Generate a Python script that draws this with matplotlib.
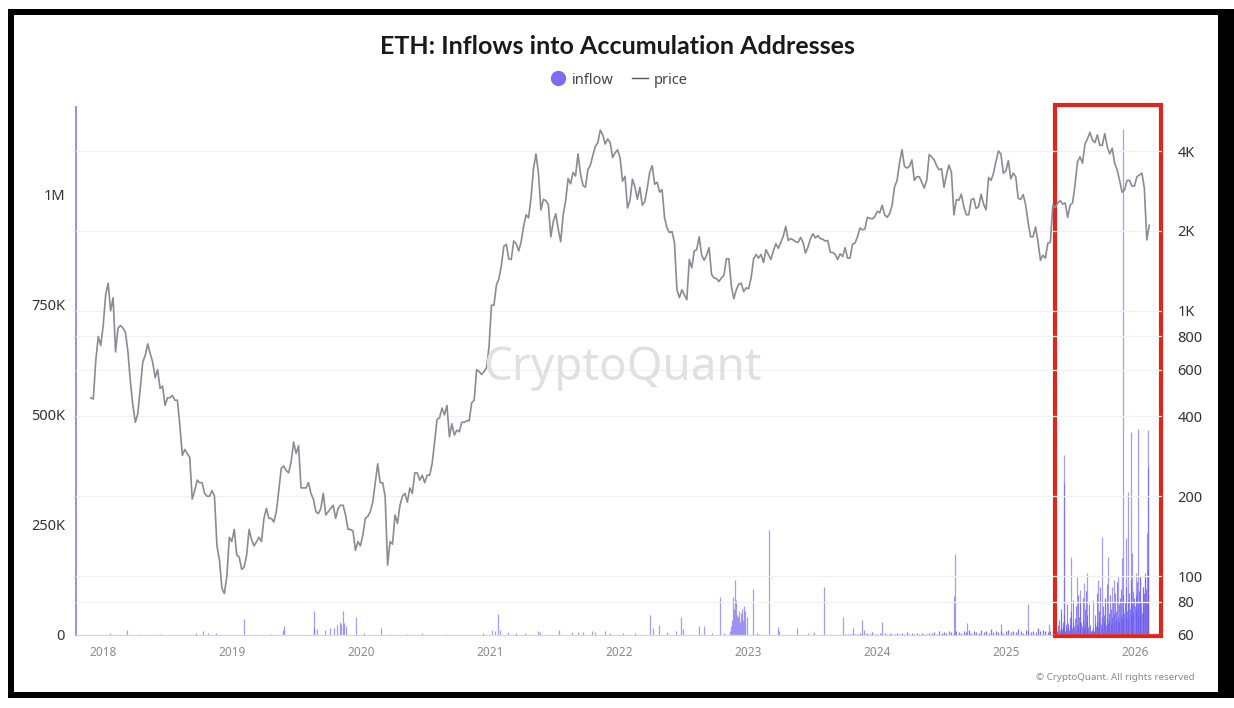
import matplotlib
matplotlib.use("Agg")
import matplotlib.pyplot as plt
import matplotlib.dates as mdates
import matplotlib.transforms as mtransforms
from matplotlib.patches import Rectangle
from matplotlib.lines import Line2D
import pandas as pd

plt.rcParams['font.family'] = ['Noto Sans', 'DejaVu Sans']

# ---------------- data ----------------
title = "ETH: Inflows into Accumulation Addresses"

# weekly ETH price (USD), one list per year with its first week's date
price_2017_start = "2017-11-27"
price_2017 = [470, 465, 650, 800, 740]
price_2018_start = "2018-01-01"
price_2018 = [880, 1150, 1270, 1000, 1120, 700, 860, 880, 860, 830, 700, 540, 440, 380, 410, 510,
              640, 680, 750, 690, 640, 560, 600, 510, 520, 440, 470, 470, 480, 460, 460, 370, 285,
              300, 290, 280, 195, 210, 230, 225, 225, 205, 200, 200, 210, 200, 130, 115, 90, 86,
              100, 140, 135]
price_2019_start = "2019-01-07"
price_2019 = [150, 120, 118, 106, 108, 120, 150, 137, 130, 135, 140, 135, 165, 180, 165, 165, 160,
              175, 210, 255, 260, 250, 245, 270, 320, 290, 310, 215, 215, 215, 225, 205, 195, 175,
              172, 180, 205, 170, 175, 180, 185, 165, 180, 185, 185, 170, 150, 150, 148, 125, 135,
              130]
price_2020_start = "2020-01-06"
price_2020 = [143, 165, 168, 175, 190, 225, 265, 225, 225, 200, 110, 135, 132, 170, 158, 185, 200,
              205, 190, 215, 205, 245, 245, 230, 240, 225, 240, 240, 265, 320, 390, 395, 430, 405,
              440, 335, 375, 340, 355, 350, 380, 380, 385, 385, 450, 460, 600, 590, 575, 590, 610,
              730]
price_2021_start = "2021-01-04"
price_2021 = [1050, 1050, 1250, 1320, 1480, 1750, 1780, 1570, 1560, 1830, 1790, 1680, 1820, 2080,
              2300, 2240, 2660, 3430, 3900, 3300, 2400, 2630, 2600, 2510, 1900, 2170, 2320, 2030,
              1820, 2300, 2600, 3150, 3010, 3320, 3220, 3900, 3280, 2970, 2920, 3400, 3540, 3850,
              4160, 4300, 4800, 4600, 4250, 4440, 4300, 3780, 3940, 4040]
price_2022_start = "2022-01-03"
price_2022 = [3770, 3080, 3210, 2440, 2600, 3130, 2930, 2630, 2920, 2500, 2580, 2900, 3330, 3520,
              3000, 3050, 2800, 2860, 2240, 2050, 1970, 1990, 1810, 1200, 1120, 1200, 1150, 1100,
              1560, 1450, 1680, 1700, 1900, 1620, 1550, 1620, 1730, 1370, 1330, 1320, 1290, 1330,
              1360, 1570, 1570, 1240, 1110, 1200, 1260, 1270, 1180, 1220]
price_2023_start = "2023-01-02"
price_2023 = [1210, 1330, 1570, 1630, 1580, 1630, 1520, 1700, 1630, 1560, 1680, 1790, 1720, 1810,
              1910, 2080, 1840, 1870, 1850, 1820, 1810, 1890, 1810, 1650, 1740, 1870, 1950, 1880,
              1920, 1870, 1860, 1830, 1840, 1660, 1660, 1630, 1560, 1640, 1600, 1730, 1580, 1580,
              1780, 1800, 1900, 2050, 2020, 2030, 2250, 2230, 2220, 2260]
price_2024_start = "2024-01-01"
price_2024 = [2370, 2340, 2500, 2300, 2250, 2320, 2500, 2930, 3100, 3600, 4050, 3500, 3450, 3500,
              3700, 3100, 3200, 3200, 3050, 2900, 3100, 3880, 3800, 3710, 3520, 3400, 3430, 2920,
              3250, 3540, 3320, 2300, 2620, 2610, 2750, 2470, 2300, 2300, 2620, 2650, 2430, 2470,
              2750, 2520, 2400, 3180, 3100, 3300, 3650, 4000, 3900, 3300, 3360]
price_2025_start = "2025-01-06"
price_2025 = [3680, 3140, 3300, 3200, 2650, 2630, 2740, 2510, 2150, 1900, 1900, 2070, 1820, 1550,
              1620, 1580, 1800, 1810, 2500, 2450, 2550, 2600, 2520, 2550, 2250, 2500, 2550, 3000,
              3650, 3800, 3600, 4250, 4450, 4700, 4400, 4300, 4600, 4200, 4200, 4650, 4150, 3900,
              4100, 3600, 3400, 3100, 2800, 2850, 3100, 3100, 2950, 2950]
price_2026_start = "2026-01-05"
price_2026 = [3200, 3250, 3300, 2900, 1850, 2100]

# inflow (thousands ETH): individual notable days
inflow_dates = [
    "2018-01-20", "2018-03-08", "2018-04-15", "2018-06-10", "2018-09-20", "2018-10-10", "2018-10-25",
    "2018-11-15", "2019-02-03", "2019-04-20", "2019-05-25", "2019-05-29", "2019-08-20", "2019-08-22",
    "2019-08-28", "2019-09-20", "2019-10-05", "2019-10-15", "2019-10-25", "2019-11-01", "2019-11-05",
    "2019-11-10", "2019-11-14", "2019-11-18", "2019-12-18", "2020-01-10", "2020-02-25", "2020-03-20",
    "2020-05-10", "2020-06-20", "2020-08-25", "2020-12-10", "2021-01-05", "2021-01-15", "2021-01-22",
    "2021-01-28", "2021-02-20", "2021-03-15", "2021-04-10", "2021-05-15", "2021-05-20", "2021-07-15",
    "2021-08-20", "2021-09-05", "2021-09-20", "2021-10-15", "2021-10-25", "2021-11-20", "2021-12-05",
    "2022-01-10", "2022-02-15", "2022-03-28", "2022-04-05", "2022-04-22", "2022-05-15", "2022-06-10",
    "2022-06-25", "2022-07-01", "2022-08-14", "2022-08-28", "2022-09-20", "2022-10-12", "2022-10-25",
    "2022-11-10", "2022-11-13", "2022-11-16", "2022-11-19", "2022-11-21", "2022-11-24", "2022-11-27",
    "2022-11-30", "2022-12-03", "2022-12-06", "2022-12-09", "2022-12-12", "2022-12-15", "2022-12-18",
    "2022-12-21", "2022-12-24", "2022-12-27", "2023-01-15", "2023-01-25", "2023-02-01", "2023-02-28",
    "2023-03-25", "2023-03-30", "2023-05-18", "2023-06-20", "2023-07-05", "2023-08-04", "2023-08-20",
    "2023-09-27", "2023-10-25", "2023-11-20", "2023-11-25", "2024-01-15", "2024-08-05", "2024-08-07",
    "2024-09-12", "2024-12-16", "2025-03-03", "2025-04-30",
    "2025-06-03", "2025-06-13", "2025-06-14", "2025-07-02", "2025-07-20", "2025-07-27", "2025-08-07",
    "2025-08-18", "2025-09-02", "2025-09-16", "2025-09-27", "2025-10-08", "2025-10-15", "2025-10-26",
    "2025-11-02", "2025-11-13", "2025-11-24", "2025-11-28", "2025-12-05", "2025-12-12", "2025-12-19",
    "2025-12-23", "2026-01-03", "2026-01-08", "2026-01-15", "2026-01-22", "2026-01-29", "2026-02-03",
    "2026-02-04", "2026-02-05",
]
inflow_values = [
    4, 11, 3, 2, 5, 8, 5,
    4, 36, 3, 12, 20, 55, 15,
    14, 12, 15, 16, 22, 30, 25,
    55, 28, 20, 41, 4, 17, 3,
    3, 4, 3, 5, 11, 10, 48,
    12, 6, 4, 5, 9, 6, 11,
    6, 7, 6, 8, 6, 10, 5,
    4, 5, 45, 15, 23, 6, 8,
    41, 14, 20, 20, 4, 87, 5,
    10, 20, 35, 87, 60, 125, 80,
    45, 40, 55, 30, 50, 60, 35,
    65, 55, 40, 104, 5, 3, 239,
    18, 10, 15, 5, 6, 109, 3,
    41, 15, 34, 12, 30, 88, 184,
    27, 25, 70, 25,
    50, 345, 409, 177, 132, 102, 118,
    141, 80, 125, 223, 82, 177, 109,
    125, 132, 175, 1150, 220, 325, 461,
    186, 141, 468, 132, 109, 132, 232,
    382, 466,
]

# background small inflows (thousands ETH), weekly from Oct 2023
bg_start = "2023-10-02"
bg_values = [
    2, 3, 2, 4, 3, 2, 5, 3, 2, 4, 3, 6, 2, 3, 4, 2, 5, 3, 4, 2,
    3, 5, 2, 4, 3, 6, 2, 4, 3, 5, 2, 4, 3, 2, 5,
    4, 6, 3, 8, 5, 7, 4, 9, 6, 5, 10, 7, 4, 8, 6, 12, 5, 9, 7, 4,
    11, 6, 8, 5, 13, 7, 9, 6, 10, 5, 8, 12, 6, 9, 7, 14, 8, 5, 11, 9,
    6, 10, 7, 15, 8, 12, 9, 6, 10, 8,
]

# dense inflows in highlighted period (thousands ETH), every 2 days
dense_start = "2025-05-20"
dense_values = [
    5, 15, 8, 22, 10, 35, 12, 18, 60, 14, 30, 20, 45, 10, 25, 15, 70, 18, 28, 12, 40,
    22, 55, 15, 30, 80, 20, 38, 12, 65, 25, 90, 18, 42, 28, 75,
    30, 20, 85, 35, 15, 60, 25, 100, 30, 45, 18, 70, 22, 10, 8, 12,
    6, 15, 10, 25, 45, 20, 95, 30, 18, 55, 35, 110, 25, 40, 20,
    65, 30, 45, 85, 22, 38, 115, 28, 50, 35, 90, 25, 60, 40, 75, 30,
    48, 95, 35, 55, 120, 40, 70, 30, 85, 45, 105, 38, 60, 90, 50,
    75, 40, 110, 55, 80, 35, 95, 60, 125, 45, 70, 100, 50, 85, 65,
    90, 55, 120, 70, 45, 100, 60, 135, 75, 50, 110, 65, 95, 140, 80, 105,
    70, 150, 90,
]

years = [2018, 2019, 2020, 2021, 2022, 2023, 2024, 2025, 2026]
left_ticks = [0, 250, 500, 750, 1000]
left_labels = ["0", "250K", "500K", "750K", "1M"]
right_ticks = [60, 80, 100, 200, 400, 600, 800, 1000, 2000, 4000]
right_labels = ["60", "80", "100", "200", "400", "600", "800", "1K", "2K", "4K"]

# ---------------- figure ----------------
W, H = 1234, 708
fig = plt.figure(figsize=(W / 100, H / 100), dpi=100)
fig.patch.set_facecolor("white")

def px(x0, y0, x1, y1):
    return [x0 / W, 1 - y1 / H, (x1 - x0) / W, (y1 - y0) / H]

L, R, T, B = 76, 1162, 107, 635
ax = fig.add_axes(px(L, T, R, B))
ax2 = ax.twinx()

bar_color = "#6a5bef"
pd_inflow = pd.to_datetime(inflow_dates)
pd_bg = pd.date_range(bg_start, periods=len(bg_values), freq="7D")
pd_dense = pd.date_range(dense_start, periods=len(dense_values), freq="2D")

ax.vlines(pd_bg, 0, bg_values, color=bar_color, lw=0.9, alpha=0.85, zorder=2)
ax.vlines(pd_dense, 0, dense_values, color=bar_color, lw=0.8, alpha=0.75, zorder=2)
ax.vlines(pd_inflow, 0, inflow_values, color=bar_color, lw=0.9, alpha=0.6, zorder=3)

ax.set_ylim(0, 1200)
ax.set_xlim(pd.Timestamp("2017-10-16"), pd.Timestamp("2026-03-17"))
ax.set_yticks(left_ticks)
ax.set_yticklabels(left_labels)

price_segments = [
    (price_2017_start, price_2017), (price_2018_start, price_2018), (price_2019_start, price_2019),
    (price_2020_start, price_2020), (price_2021_start, price_2021), (price_2022_start, price_2022),
    (price_2023_start, price_2023), (price_2024_start, price_2024), (price_2025_start, price_2025),
    (price_2026_start, price_2026),
]
p_dates, p_vals = [], []
for start, vals in price_segments:
    p_dates.extend(pd.date_range(start, periods=len(vals), freq="7D"))
    p_vals.extend(vals)
ax2.plot(p_dates, p_vals, color="#8b8b96", lw=1.2, zorder=4)
ax2.set_yscale("log")
ax2.set_ylim(60, 5860)
ax2.set_yticks(right_ticks)
ax2.set_yticklabels(right_labels)
ax2.yaxis.set_minor_locator(matplotlib.ticker.NullLocator())
ax2.grid(axis="y", color="#f1f1f3", lw=0.9)
ax2.set_axisbelow(True)

ax.set_xticks([pd.Timestamp(f"{y}-01-01") for y in years])
ax.set_xticklabels([str(y) for y in years])

for a in (ax, ax2):
    for s in a.spines.values():
        s.set_visible(False)
ax.spines["left"].set_visible(True)
ax.spines["left"].set_color("#9d8fe6")
ax.spines["left"].set_linewidth(1.4)
ax.spines["bottom"].set_visible(True)
ax.spines["bottom"].set_color("#d6d0f5")
ax.spines["bottom"].set_linewidth(0.8)

ax.tick_params(axis="y", length=0, pad=8, labelsize=10.5, labelcolor="#333333")
ax.tick_params(axis="x", length=0, pad=8, labelsize=8.5, labelcolor="#8a8a8a")
ax2.tick_params(axis="y", length=0, pad=11, labelsize=10.5, labelcolor="#333333")

# watermark
fig.text(622 / W, 1 - 368 / H, "CryptoQuant", fontsize=33, color="#e0e0e4",
         ha="center", va="center", zorder=0)

# red highlight box
trans = mtransforms.blended_transform_factory(ax.transData, ax.transAxes)
x0 = mdates.date2num(pd.Timestamp("2025-05-17"))
x1 = mdates.date2num(pd.Timestamp("2026-03-14"))
ax.add_patch(Rectangle((x0, -0.002), x1 - x0, 1.006, transform=trans, fill=False,
                       edgecolor="#e0251d", lw=3.0, zorder=10, clip_on=False))

# title and legend
fig.text(617 / W, 1 - 47 / H, title, fontsize=18, fontweight="bold", color="#1a1a1a",
         ha="center", va="center", family=["Lato", "DejaVu Sans"])
handles = [
    Line2D([], [], marker="o", ls="none", color="#7b6cf0", markersize=10),
    Line2D([], [], ls="-", color="#555555", lw=1.0),
]
fig.legend(handles, ["inflow", "price"], loc="center", bbox_to_anchor=(619 / W, 1 - 80 / H),
           ncol=2, frameon=False, fontsize=10.5, handlelength=1.1, handletextpad=0.4,
           columnspacing=1.2, labelcolor="#444444")

# copyright
fig.text(1195 / W, 1 - 677 / H, "\u00a9 CryptoQuant. All rights reserved", fontsize=7,
         color="#8a8a8a", ha="right", va="center")

# black frame
frame_color = "black"
for rect in [px(8, 9, 1234, 15), px(8, 692, 1234, 698), px(8, 9, 14, 698), px(1218, 9, 1234, 698)]:
    fig.add_artist(Rectangle((rect[0], rect[1]), rect[2], rect[3], transform=fig.transFigure,
                             facecolor=frame_color, edgecolor="none", zorder=20))

fig.savefig("out.png", dpi=100, facecolor="white")
